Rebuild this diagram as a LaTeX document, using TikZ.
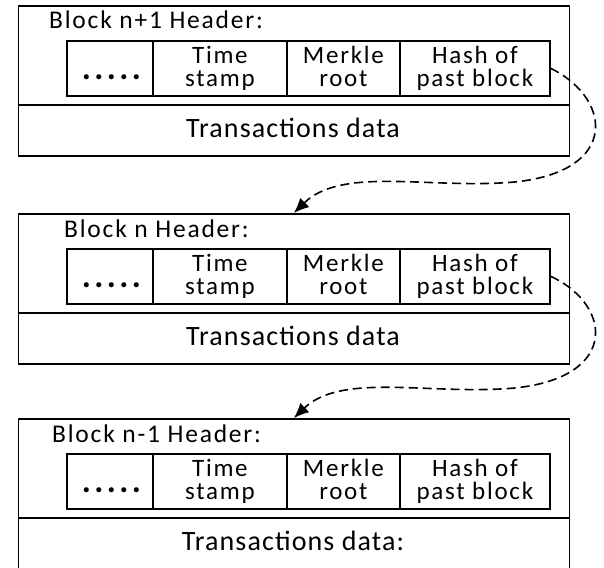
\documentclass[tikz,border=0pt]{standalone}
\usepackage{fontspec}
\setmainfont{Carlito}
\usetikzlibrary{arrows.meta}
\newcommand{\cellfont}{\fontsize{25}{23}\selectfont\addfontfeatures{LetterSpace=7}\lineskiplimit=-60pt}
\newcommand{\celline}[1]{\vphantom{Hp}#1}
\begin{document}
\begin{tikzpicture}[x=1pt,y=-1pt,
  blockbox/.style={draw,line width=1.8pt,fill=white,minimum width=551pt,minimum height=150pt,inner sep=0pt,anchor=north west},
  cellbox/.style={draw,line width=1.8pt,minimum height=55pt,inner sep=0pt,anchor=north west,align=center,font=\cellfont},
  hdr/.style={anchor=base west,inner sep=0pt,font=\fontsize{25.5}{30}\selectfont\addfontfeatures{LetterSpace=7}},
  txt/.style={inner sep=0pt,anchor=base,font=\fontsize{28}{30}\selectfont\addfontfeatures{LetterSpace=4}},
  dotsfont/.style={font=\fontsize{34}{34}\selectfont\bfseries\addfontfeatures{LetterSpace=10}},
  divline/.style={line width=1.8pt},
  link/.style={line width=1.6pt,dash pattern=on 9pt off 5pt,-{Latex[length=15pt,width=13pt]}}]
\useasboundingbox (0,0) rectangle (604,567);
\begin{scope}
\clip (0,0) rectangle (604,567);
\foreach \i/\y/\hx/\lab/\tr in {1/5/49/n+1/Transactions data, 2/213/64/n/Transactions data, 3/418/52/n-1/Transactions data:} {
  \node[blockbox] (b\i) at (17.5,\y) {};
  \node[hdr] (t\i) at (\hx,\y+24) {Block \lab{} Header:};
  \node[cellbox,dotsfont,minimum width=86pt] (d\i) at (66,\y+35) {\vphantom{H}\hspace{3pt}.....};
  \node[cellbox,minimum width=134pt] (s\i) at (152,\y+35) {\celline{Time}\\\celline{stamp}};
  \node[cellbox,minimum width=113pt] (m\i) at (286,\y+35) {\celline{Merkle}\\\celline{root}};
  \node[cellbox,minimum width=150pt] (h\i) at (399,\y+35) {\celline{Hash of}\\\celline{past block}};
  \draw[divline] ([yshift=-100pt]b\i.north west) -- ([yshift=-100pt]b\i.north east);
  \node[txt] (x\i) at (293,\y+132) {\tr};
}
\draw[link] (h1.east) .. controls (615,100) and (620,178) .. (500,183)
  .. controls (420,187) and (340,168) .. (b2.north);
\draw[link] (h2.east) .. controls (615,306) and (620,384) .. (500,389)
  .. controls (420,393) and (340,374) .. (b3.north);
\end{scope}
\end{tikzpicture}
\end{document}
